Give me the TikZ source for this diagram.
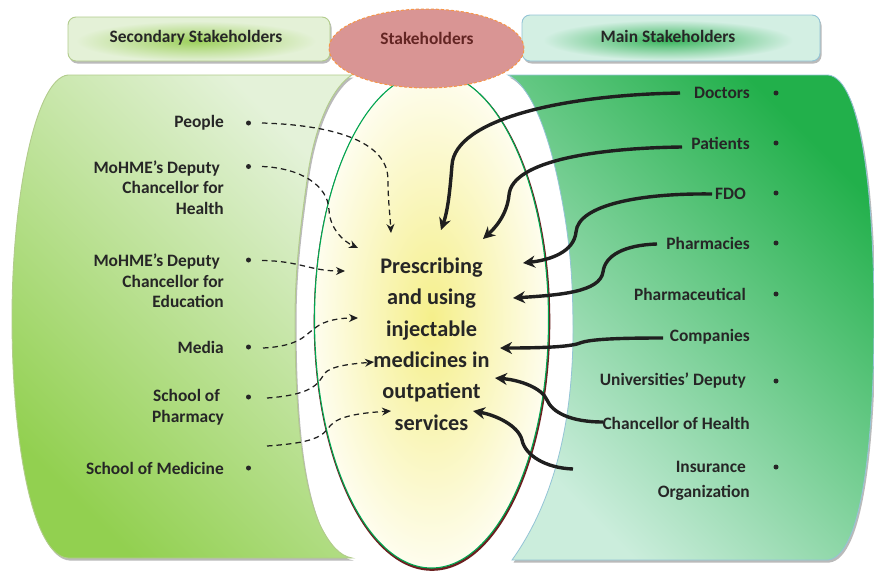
\documentclass[tikz,border=0pt]{standalone}
\usepackage{fontspec}
\setmainfont{Carlito}
\usetikzlibrary{arrows.meta,shadows,shapes.geometric}
\definecolor{txt}{HTML}{262626}
\definecolor{lpLight}{HTML}{E4F2D9}
\definecolor{lpDark}{HTML}{92D050}
\definecolor{lpBorder}{HTML}{B2CC8C}
\definecolor{rpLight}{HTML}{CBEDDC}
\definecolor{rpDark}{HTML}{22B04B}
\definecolor{rpBorder}{HTML}{94C4D6}
\definecolor{lbFill}{HTML}{E4F1D7}
\definecolor{lbGlow}{HTML}{9DD05C}
\definecolor{rbFill}{HTML}{D3EFE3}
\definecolor{rbGlow}{HTML}{37B45A}
\definecolor{stkFill}{HTML}{D99594}
\definecolor{stkBorder}{HTML}{F79646}
\definecolor{stkText}{HTML}{632523}
\definecolor{ellGreen}{HTML}{00A650}
\definecolor{ellRed}{HTML}{6B2020}
\definecolor{ellIn}{HTML}{F5EF8A}
\definecolor{ellOut}{HTML}{FEFDEE}
\tikzset{
  lbl/.style={font=\fontsize{17.4}{20.7}\selectfont\bfseries, text=txt, inner sep=0pt, align=right, anchor=east},
  bul/.style={circle, fill=txt, inner sep=0pt, minimum size=5pt},
  dasharrow/.style={draw=black!88, line width=1.25pt, dash pattern=on 5.5pt off 4pt, -{Stealth[length=9pt,width=8pt]}},
  thickarrow/.style={draw=black!88, line width=3.4pt, -{Stealth[length=12pt,width=12pt]}},
  pshadow/.style={drop shadow={shadow xshift=1.5pt, shadow yshift=-2.5pt, fill=black!45, opacity=0.6}},
}
\begin{document}
\begin{tikzpicture}[x=1pt,y=-1pt]
\useasboundingbox (0,0) rectangle (874,570);
\fill[white] (0,0) rectangle (874,570);

% ---------- left panel ----------
\path[pshadow, draw=lpBorder, line width=0.9pt, top color=lpLight, bottom color=lpDark, shading angle=-45]
  (352,75) -- (68,75) .. controls (35,78) and (12,200) .. (12,318)
  .. controls (12,440) and (32,556) .. (68,558) -- (352,558)
  .. controls (340,556) and (330,545) .. (320,525)
  .. controls (305,490) and (295,430) .. (295,320)
  .. controls (295,270) and (300,230) .. (307,180)
  .. controls (315,120) and (335,85) .. (352,75) -- cycle;

% ---------- right panel ----------
\path[pshadow, draw=rpBorder, line width=0.8pt, top color=rpDark, bottom color=rpLight, shading angle=-45]
  (508,75) -- (828,75) .. controls (862,78) and (874,200) .. (874,318)
  .. controls (874,440) and (862,556) .. (828,560) -- (512,560)
  .. controls (555,500) and (573,420) .. (573,330)
  .. controls (573,280) and (570,240) .. (560,190)
  .. controls (548,130) and (530,85) .. (508,75) -- cycle;

% ---------- header boxes ----------
\path[pshadow, fill=lbFill, rounded corners=8pt] (68,17) rectangle (330,61);
\begin{scope}
  \clip[rounded corners=8pt] (68,17) rectangle (330,61);
  \shade[inner color=lbGlow, outer color=lbFill] (196,41) ellipse [x radius=120pt, y radius=20pt];
\end{scope}
\draw[lpBorder, line width=0.9pt, rounded corners=8pt] (68,17) rectangle (330,61);
\node (secHead) [font=\fontsize{17.4}{20}\selectfont\bfseries, text=txt] at (196,38) {Secondary Stakeholders};

\path[pshadow, fill=rbFill, rounded corners=8pt] (522,15) rectangle (820,61);
\begin{scope}
  \clip[rounded corners=8pt] (522,15) rectangle (820,61);
  \shade[inner color=rbGlow, outer color=rbFill] (668,40) ellipse [x radius=125pt, y radius=20pt];
\end{scope}
\draw[rpBorder, line width=0.9pt, rounded corners=8pt] (522,15) rectangle (820,61);
\node (mainHead) [font=\fontsize{17.4}{20}\selectfont\bfseries, text=txt] at (668,36) {Main Stakeholders};

% ---------- central ellipse ----------
\draw[ellRed, line width=2.6pt] (432,321.5) ellipse [x radius=117pt, y radius=248pt];
\shade[inner color=ellIn, outer color=ellOut] (431.5,320) ellipse [x radius=117pt, y radius=248pt];
\draw[ellGreen, line width=1.1pt] (431.5,320) ellipse [x radius=117pt, y radius=248pt];

% ---------- stakeholders ellipse ----------
\node (stk) [ellipse, fill=stkFill, draw=stkBorder, line width=1pt, dash pattern=on 3pt off 2pt,
  minimum width=195pt, minimum height=79pt, inner sep=0pt] at (426.5,48.5) {};
\node (stkText) [font=\fontsize{17.4}{20}\selectfont\bfseries, text=stkText] at (427,38) {Stakeholders};

% ---------- centre text ----------
\node (core) [font=\fontsize{22.3}{31.4}\selectfont\bfseries, text=txt, align=center, inner sep=0pt] at (431.5,344)
  {Prescribing\\and using\\injectable\\medicines in\\outpatient\\services};

% ---------- left labels ----------
\node (people) [lbl] at (224,123) {People};
\node (mohmeH) [lbl] at (224,187.5) {MoHME’s Deputy\hspace*{4pt}\\Chancellor for\\Health};
\node (mohmeE) [lbl] at (224,281) {MoHME’s Deputy\hspace*{4pt}\\Chancellor for\\Education};
\node (media) [lbl] at (224,347) {Media};
\node (pharmSch) [lbl] at (224,407) {School of\hspace*{4pt}\\Pharmacy};
\node (medSch) [lbl] at (224,468) {School of Medicine};

\node (lb1) [bul] at (248.5,123) {};
\node (lb2) [bul] at (248.5,166.5) {};
\node (lb3) [bul] at (248.5,260) {};
\node (lb4) [bul] at (248.5,347) {};
\node (lb5) [bul] at (248.5,397) {};
\node (lb6) [bul] at (248.5,468) {};

% ---------- right labels ----------
\node (doctors) [lbl] at (750,93) {Doctors};
\node (patients) [lbl] at (750,143) {Patients};
\node (fdo) [lbl] at (746,194) {FDO};
\node (pharmacies) [lbl] at (750,243) {Pharmacies};
\node (pharmaceutical) [lbl] at (746,294) {Pharmaceutical};
\node (companies) [lbl] at (750,337) {Companies};
\node (univ) [lbl] at (746,381) {Universities’ Deputy};
\node (chanc) [lbl] at (750,423) {Chancellor of Health};
\node (insur) [lbl] at (746,467) {Insurance};
\node (organ) [lbl] at (750,493) {Organization};

\node (rb1) [bul] at (776,93) {};
\node (rb2) [bul] at (776,143) {};
\node (rb3) [bul] at (776,193) {};
\node (rb4) [bul] at (776,243) {};
\node (rb5) [bul] at (776,294) {};
\node (rb6) [bul] at (776,381) {};
\node (rb7) [bul] at (776,467) {};

% ---------- connector end points ----------
\coordinate (s1) at (262,123);   \coordinate (t1) at (391,233);
\coordinate (s2) at (262,166.5); \coordinate (t2) at (358,248);
\coordinate (s3) at (262,260.5); \coordinate (t3) at (345,271);
\coordinate (s4) at (263,348);   \coordinate (t4) at (358,318);
\coordinate (s5) at (267,398);   \coordinate (t5) at (374,362);
\coordinate (s6) at (267,446);   \coordinate (t6) at (391,411);

\coordinate (d1) at (680,93);    \coordinate (td) at (441,230);
\coordinate (p1) at (682,147);   \coordinate (tp) at (483,239);
\coordinate (f1) at (712,194);   \coordinate (tf) at (523,263);
\coordinate (h1) at (657,244);   \coordinate (th) at (513,298);
\coordinate (c1) at (663,338);   \coordinate (tc) at (500,348);
\coordinate (k1) at (603,422);   \coordinate (tk) at (495,378);
\coordinate (i1) at (573,469);   \coordinate (ti) at (473,411);

% ---------- dashed connectors ----------
\draw[dasharrow] (s1) .. controls (330,125) and (388,140) .. (388,180) .. controls (388,200) and (390,215) .. (t1);
\draw[dasharrow] (s2) .. controls (300,168) and (328,185) .. (329,210) .. controls (330,230) and (345,242) .. (t2);
\draw[dasharrow] (s3) .. controls (300,261) and (310,271) .. (t3);
\draw[dasharrow] (s4) .. controls (300,346) and (305,335) .. (315,328) .. controls (325,320) and (340,318) .. (t4);
\draw[dasharrow] (s5) .. controls (310,395) and (318,385) .. (324,374) .. controls (330,366) and (350,364) .. (t5);
\draw[dasharrow] (s6) .. controls (310,443) and (322,438) .. (330,426) .. controls (338,416) and (360,413) .. (t6);

% ---------- solid connectors ----------
\draw[thickarrow] (d1) .. controls (560,95) and (455,120) .. (452,165) .. controls (450,190) and (448,210) .. (td);
\draw[thickarrow] (p1) .. controls (600,148) and (512,160) .. (509,195) .. controls (507,215) and (495,228) .. (tp);
\draw[thickarrow] (f1) .. controls (640,193) and (578,205) .. (576,232) .. controls (574,252) and (550,260) .. (tf);
\draw[thickarrow] (h1) .. controls (625,245) and (605,255) .. (603,272) .. controls (600,292) and (560,295) .. (th);
\draw[thickarrow] (c1) .. controls (620,338) and (590,339) .. (580,343) .. controls (570,347) and (540,348) .. (tc);
\draw[thickarrow] (k1) .. controls (570,422) and (552,412) .. (547,400) .. controls (542,388) and (520,380) .. (tk);
\draw[thickarrow] (i1) .. controls (545,468) and (525,455) .. (522,440) .. controls (518,425) and (495,415) .. (ti);
\end{tikzpicture}
\end{document}
